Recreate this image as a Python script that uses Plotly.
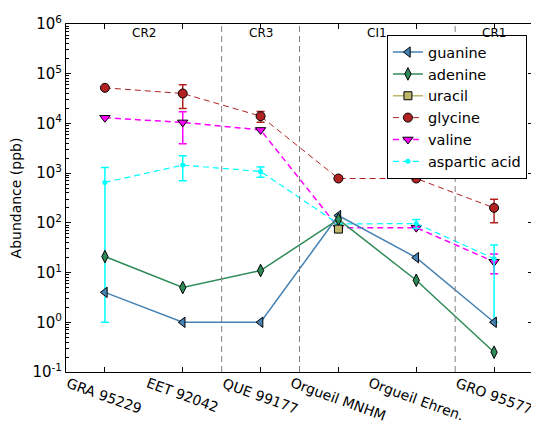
import plotly.graph_objects as go

samples = ["GRA 95229", "EET 92042", "QUE 99177", "Orgueil MNHM", "Orgueil Ehren.", "GRO 95577"]
groups = ["CR2", "CR2", "CR3", "CI1", "CI1", "CR1"]

guanine = [4, 1, 1, 140, 20, 1]
adenine = [21, 5, 11, 117, 7, 0.25]
uracil = [None, None, None, 75, None, None]
glycine = [52000, 40000, 14000, 780, 780, 200]
glycine_err = [0, 20000, 3400, 0, 0, 100]
valine = [13000, 10500, 7400, 80, 80, 16.5]
valine_err = [0, 6600, 0, 0, 0, 7]
aspartic = [650, 1450, 1080, 95, 97, 19]
aspartic_plus = [650, 780, 250, 0, 20, 17]
aspartic_minus = [649, 750, 250, 0, 20, 18]

ytick_exp = [-1, 0, 1, 2, 3, 4, 5, 6]

x = list(range(len(samples)))
FONT = "DejaVu Sans"
DASH = "6px,4px"

fig = go.Figure()

def add(name, rank, y, color, symbol, size, dash="solid", lw=1.5, err=None, errm=None, mline=1):
    kw = {}
    if err is not None:
        kw["error_y"] = dict(type="data", array=err,
                             arrayminus=errm if errm is not None else err,
                             symmetric=False, color=color, thickness=1.5, width=4)
    fig.add_trace(go.Scatter(
        x=x, y=y, name=name, mode="lines+markers", legendrank=rank,
        line=dict(color=color, width=lw, dash=dash),
        marker=dict(symbol=symbol, size=size, color=color,
                    line=dict(color="black", width=mline)),
        **kw))

# amino acids drawn first (below), nucleobases on top
add("glycine", 4, glycine, "#b22222", "circle", 9, dash=DASH, lw=1, err=glycine_err)
add("valine", 5, valine, "#ff00ff", "triangle-down", 9, dash=DASH, lw=1.5, err=valine_err)
add("aspartic acid", 6, aspartic, "#00ffff", "circle", 5, dash=DASH, lw=1.2,
    err=aspartic_plus, errm=aspartic_minus, mline=0)
add("guanine", 1, guanine, "#4682b4", "triangle-left", 9)
add("adenine", 2, adenine, "#2e8b57", "diamond-tall", 9)
add("uracil", 3, uracil, "#bdb76b", "square", 8)

# group boundaries and labels
shapes = []
annotations = []
start = 0
for i in range(1, len(groups) + 1):
    if i == len(groups) or groups[i] != groups[start]:
        center = (start + i - 1) / 2
        annotations.append(dict(x=center, y=1, xref="x", yref="paper",
                                text=groups[start], showarrow=False,
                                yanchor="top", yshift=0,
                                font=dict(family=FONT, size=12, color="black")))
        if i < len(groups):
            shapes.append(dict(type="line", xref="x", yref="paper",
                               x0=i - 0.5, x1=i - 0.5, y0=0, y1=1,
                               line=dict(color="#808080", width=1, dash=DASH)))
        start = i

for xi, s in zip(x, samples):
    annotations.append(dict(x=xi, y=0, xref="x", yref="paper", text=s,
                            showarrow=False, textangle=20, yanchor="top",
                            xanchor="center", yshift=0,
                            font=dict(family=FONT, size=14, color="black")))

fig.update_layout(
    width=531, height=417,
    margin=dict(l=58, r=5, t=10, b=53),
    plot_bgcolor="white", paper_bgcolor="white",
    font=dict(family=FONT, size=14, color="black"),
    shapes=shapes, annotations=annotations,
    legend=dict(x=0.987, y=0.968, xanchor="right", yanchor="top",
                bordercolor="black", borderwidth=1, bgcolor="white",
                font=dict(family=FONT, size=14.5), tracegroupgap=0,
                entrywidth=109, entrywidthmode="pixels"),
)
fig.update_xaxes(range=[-0.5, 5.5], tickvals=x, showticklabels=False,
                 ticks="inside", ticklen=5, tickcolor="black",
                 showline=True, linecolor="black", linewidth=1, mirror="allticks",
                 showgrid=False, zeroline=False)
fig.update_yaxes(type="log", range=[-1, 6],
                 tickvals=[10 ** e for e in ytick_exp],
                 ticktext=["10<sup>%d</sup>" % e for e in ytick_exp],
                 ticklabeloverflow="allow",
                 ticks="inside", ticklen=5, tickcolor="black",
                 minor=dict(ticks="inside", ticklen=2.5, tickcolor="black", dtick="D1"),
                 showline=True, linecolor="black", linewidth=1, mirror="allticks",
                 showgrid=False, zeroline=False,
                 title=dict(text="Abundance (ppb)", standoff=8,
                            font=dict(family=FONT, size=14)),
                 tickfont=dict(family=FONT, size=15))

fig.write_html("out.html")
